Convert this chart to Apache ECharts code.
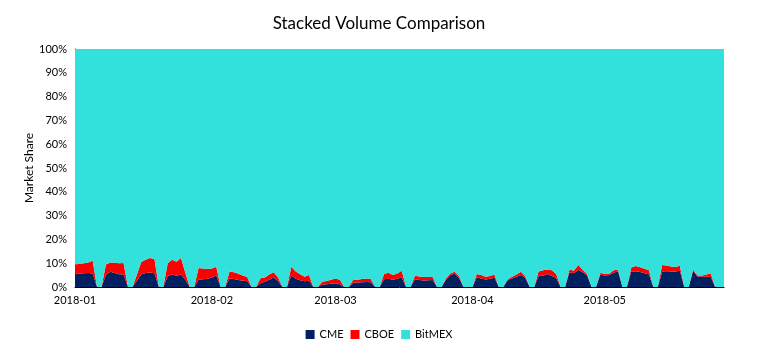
<!DOCTYPE html>
<html>
<head>
<meta charset="utf-8">
<script src="https://cdn.jsdelivr.net/npm/echarts@6/dist/echarts.min.js"></script>
<style>
  html, body { margin: 0; padding: 0; background: #fff; }
  #chart { width: 758px; height: 353px; }
</style>
</head>
<body>
<div id="chart"></div>
<script>
// daily categories, 2018-01-01 .. 2018-05-28
const days = []
for (let d = new Date(Date.UTC(2018, 0, 1)); d <= new Date(Date.UTC(2018, 4, 28)); d.setUTCDate(d.getUTCDate() + 1)) {
    days.push(d.toISOString().slice(0, 10))
}

// market share in %, one row per week (Mon..Sun)
const cme = [
    5.3,5.7,5.8,5.9,5.7,0,0,  5.0,6.4,5.9,5.4,5.3,0,0,  2.5,5.2,5.9,6.1,5.8,0,0,
    4.6,5.3,4.7,5.3,3.0,0,0,  3.2,3.3,3.5,4.0,4.8,0,0,  3.6,3.4,2.9,2.6,2.5,0,0,
    1.6,2.2,3.0,4.0,2.4,0,0,  4.8,3.5,2.8,2.4,2.6,0,0,  1.1,1.2,1.4,1.6,1.2,0,0,
    1.8,1.9,2.0,2.1,2.0,0,0,  3.3,3.5,3.0,3.5,4.0,0,0,  3.3,2.9,2.7,2.8,2.9,0,0,
    2.9,5.0,5.6,3.8,0,0,0,    4.0,3.6,3.2,3.5,3.9,0,0,  2.9,3.6,4.3,5.0,3.8,0,0,
    4.5,4.8,5.5,4.6,3.8,0,0,  6.2,5.8,7.1,6.2,4.8,0,0,  5.3,4.8,5.0,6.0,6.6,0,0,
    6.5,6.6,6.3,5.8,5.3,0,0,  6.4,6.3,6.4,6.5,6.8,0,0,  6.8,4.4,4.4,4.3,4.2,0,0,
    0
]
const cboe = [
    4.2,4.1,4.2,4.4,5.3,0,0,  4.5,3.9,4.3,4.6,4.8,0,0,  2.5,5.3,5.6,6.1,6.0,0,0,
    5.4,6.1,5.9,6.9,3.0,0,0,  4.8,4.5,4.1,3.8,3.7,0,0,  2.9,2.8,2.7,2.2,1.7,0,0,
    2.1,1.8,2.2,2.2,1.6,0,0,  3.7,3.0,2.6,1.9,2.4,0,0,  1.1,1.3,1.6,2.0,1.8,0,0,
    1.1,1.1,1.4,1.5,1.4,0,0,  2.2,2.5,2.0,2.2,2.8,0,0,  1.4,1.5,1.5,1.4,1.4,0,0,
    0.7,0.7,0.8,0.8,0,0,0,    1.5,1.4,1.1,1.1,1.3,0,0,  0.4,0.7,0.9,1.4,0.7,0,0,
    2.0,2.2,1.9,2.4,1.7,0,0,  1.2,1.0,2.1,1.0,0.7,0,0,  0.7,0.7,0.6,1.0,0.8,0,0,
    1.7,2.2,2.0,1.9,1.7,0,0,  2.8,2.7,2.2,1.9,2.1,0,0,  0.6,0.4,0.4,0.9,1.5,0,0,
    0
]
const bitmex = [
    90.5,90.2,90.0,89.7,89.0,100,100,  90.5,89.7,89.8,90.0,89.9,100,100,  95.0,89.5,88.5,87.8,88.2,100,100,
    90.0,88.6,89.4,87.8,94.0,100,100,  92.0,92.2,92.4,92.2,91.5,100,100,  93.5,93.8,94.4,95.2,95.8,100,100,
    96.3,96.0,94.8,93.8,96.0,100,100,  91.5,93.5,94.6,95.7,95.0,100,100,  97.8,97.5,97.0,96.4,97.0,100,100,
    97.1,97.0,96.6,96.4,96.6,100,100,  94.5,94.0,95.0,94.3,93.2,100,100,  95.3,95.6,95.8,95.8,95.7,100,100,
    96.4,94.3,93.6,95.4,100,100,100,   94.5,95.0,95.7,95.4,94.8,100,100,  96.7,95.7,94.8,93.6,95.5,100,100,
    93.5,93.0,92.6,93.0,94.5,100,100,  92.6,93.2,90.8,92.8,94.5,100,100,  94.0,94.5,94.4,93.0,92.6,100,100,
    91.8,91.2,91.7,92.3,93.0,100,100,  90.8,91.0,91.4,91.6,91.1,100,100,  92.6,95.2,95.2,94.8,94.3,100,100,
    100
]

const seriesNames = ['CME', 'CBOE', 'BitMEX']
const seriesColors = ['#002060', '#ff0000', '#32e0dc']
const seriesData = [cme, cboe, bitmex]

const font = 'Lato, "Open Sans", sans-serif'
const chart = echarts.init(document.getElementById('chart'))
chart.setOption({
    animation: false,
    backgroundColor: '#fff',
    title: {
        text: 'Stacked Volume Comparison',
        left: 'center',
        top: 10,
        textStyle: { fontSize: 17, fontWeight: 'normal', color: '#000', fontFamily: font }
    },
    legend: {
        bottom: 8,
        left: 'center',
        icon: 'rect',
        itemWidth: 9,
        itemHeight: 9,
        itemGap: 7,
        textStyle: { fontSize: 11, color: '#000', fontFamily: font },
        data: seriesNames
    },
    grid: { left: 75, right: 34, top: 49, bottom: 66 },
    xAxis: {
        type: 'category',
        data: days,
        boundaryGap: false,
        axisLine: { lineStyle: { color: '#000', width: 1 } },
        axisTick: { show: false },
        axisLabel: {
            interval: (i, v) => v.slice(8) === '01',
            formatter: v => v.slice(0, 7),
            color: '#000',
            fontSize: 11,
            fontFamily: font,
            margin: 8
        },
        splitLine: { show: false }
    },
    yAxis: {
        type: 'value',
        min: 0,
        max: 100,
        interval: 10,
        name: 'Market Share',
        nameLocation: 'middle',
        nameRotate: 90,
        nameGap: 40,
        nameMoveOverlap: false,
        nameTextStyle: { fontSize: 12, color: '#000', fontFamily: font },
        axisLine: { show: true, lineStyle: { color: '#000', width: 1 } },
        axisTick: { show: false },
        axisLabel: { formatter: '{value}%', color: '#000', fontSize: 11, fontFamily: font, margin: 8 },
        splitLine: { show: false }
    },
    series: seriesNames.map((name, k) => ({
        name: name,
        type: 'line',
        stack: 'share',
        data: seriesData[k],
        symbol: 'none',
        lineStyle: { width: 0 },
        itemStyle: { color: seriesColors[k] },
        areaStyle: { color: seriesColors[k], opacity: 1 },
        z: 2 + k
    }))
})
</script>
</body>
</html>
